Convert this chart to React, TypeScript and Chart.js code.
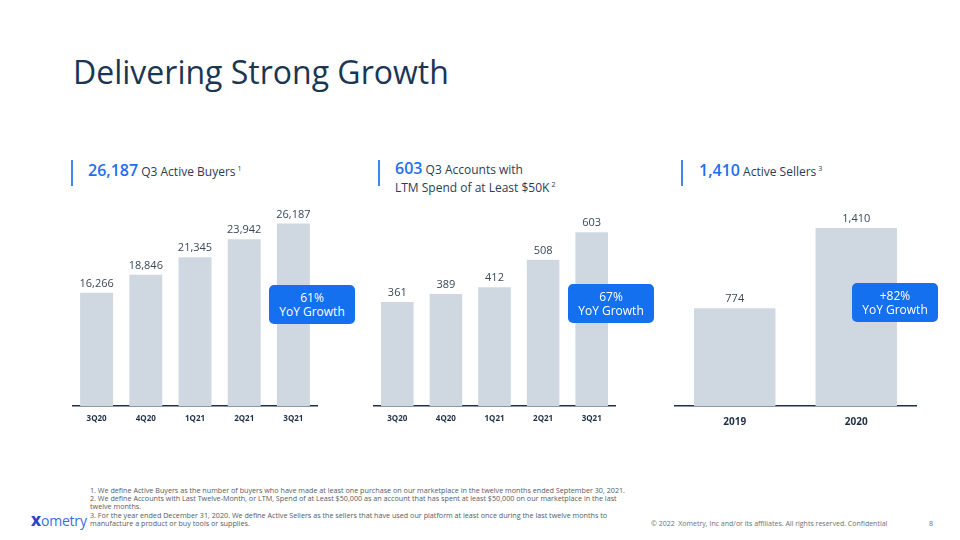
import React, { useEffect, useRef } from "react";
import { Chart, registerables } from "chart.js";

Chart.register(...registerables);

// ---- data ----
const buyersLabels = ["3Q20", "4Q20", "1Q21", "2Q21", "3Q21"];
const buyersValues = [16266, 18846, 21345, 23942, 26187];
const accountsLabels = ["3Q20", "4Q20", "1Q21", "2Q21", "3Q21"];
const accountsValues = [361, 389, 412, 508, 603];
const sellersLabels = ["2019", "2020"];
const sellersValues = [774, 1410];

const FONT = '"Open Sans", "Noto Sans", sans-serif';
const NAVY = "#1b3652";
const BLUE = "#1d6ff2";

type BarProps = {
  labels: string[];
  values: number[];
  max: number;
  barPct: number;
  tickSize: number;
  tickPad: number;
  left: number;
  width: number;
};

const valueLabels = {
  id: "valueLabels",
  afterDatasetsDraw(chart: any) {
    const { ctx } = chart;
    const meta = chart.getDatasetMeta(0);
    ctx.save();
    ctx.font = `11px ${FONT}`;
    ctx.fillStyle = "#3a4858";
    ctx.textAlign = "center";
    ctx.textBaseline = "alphabetic";
    meta.data.forEach((bar: any, i: number) => {
      const v = chart.data.datasets[0].data[i] as number;
      ctx.fillText(v.toLocaleString("en-US"), bar.x, bar.y - 6);
    });
    ctx.restore();
  },
};

function BarChart(p: BarProps) {
  const ref = useRef<HTMLCanvasElement | null>(null);
  useEffect(() => {
    if (!ref.current) return;
    const chart = new Chart(ref.current, {
      type: "bar",
      data: {
        labels: p.labels,
        datasets: [
          {
            data: p.values,
            backgroundColor: "#cfd8e0",
            borderWidth: 0,
            barPercentage: p.barPct,
            categoryPercentage: 1,
          },
        ],
      },
      options: {
        animation: false,
        responsive: false,
        maintainAspectRatio: false,
        layout: { padding: 0 },
        plugins: { legend: { display: false }, tooltip: { enabled: false } },
        scales: {
          x: {
            grid: { display: false },
            border: { display: true, color: "#1c3048", width: 1.5 },
            ticks: {
              font: { family: FONT, size: p.tickSize, weight: "bold" },
              color: "#1e2f45",
              padding: p.tickPad,
              maxRotation: 0,
            },
            afterFit: (s: any) => {
              s.height = 34;
            },
          },
          y: { display: false, min: 0, max: p.max },
        },
      } as any,
      plugins: [valueLabels],
    });
    return () => chart.destroy();
  }, []);
  return (
    <canvas
      ref={ref}
      width={p.width}
      height={250}
      style={{ position: "absolute", left: p.left, top: 190, width: p.width, height: 250 }}
    />
  );
}

function Header(props: { x: number; lineX: number; children: React.ReactNode }) {
  return (
    <>
      <div
        style={{
          position: "absolute",
          left: props.lineX,
          top: 160,
          width: 2,
          height: 26,
          background: "#3f86f0",
        }}
      />
      <div
        style={{
          position: "absolute",
          left: props.x,
          top: 161,
          fontFamily: FONT,
          color: "#2a3d55",
          fontSize: 12,
          lineHeight: "15px",
          whiteSpace: "nowrap",
        }}
      >
        {props.children}
      </div>
    </>
  );
}

function Callout(props: { left: number; top: number; pct: string }) {
  return (
    <div
      style={{
        position: "absolute",
        left: props.left,
        top: props.top,
        width: 86,
        height: 39,
        borderRadius: 5,
        background: "#1470ef",
        color: "#ffffff",
        fontFamily: FONT,
        fontSize: 12,
        lineHeight: "14px",
        display: "flex",
        flexDirection: "column",
        justifyContent: "center",
        alignItems: "center",
      }}
    >
      <div>{props.pct}</div>
      <div>YoY Growth</div>
    </div>
  );
}

const big = { color: BLUE, fontSize: 16, fontWeight: 600 as const };
const sup = { fontSize: 7, verticalAlign: "5px", marginLeft: 2 };

export default function App() {
  return (
    <div
      style={{
        position: "fixed",
        left: 0,
        top: 0,
        width: 960,
        height: 540,
        background: "#ffffff",
        overflow: "hidden",
        fontFamily: FONT,
      }}
    >
      <div
        style={{
          position: "absolute",
          left: 73,
          top: 52,
          fontSize: 32,
          lineHeight: "40px",
          color: NAVY,
          whiteSpace: "nowrap",
        }}
      >
        Delivering Strong Growth
      </div>

      <Header x={88} lineX={71}>
        <span style={big}>26,187</span> Q3 Active Buyers<span style={sup}>1</span>
      </Header>
      <Header x={395} lineX={378}>
        <span style={big}>603</span> Q3 Accounts with
        <br />
        LTM Spend of at Least $50K<span style={sup}>2</span>
      </Header>
      <Header x={699} lineX={681}>
        <span style={big}>1,410</span> Active Sellers<span style={sup}>3</span>
      </Header>

      <BarChart labels={buyersLabels} values={buyersValues} max={31000} barPct={0.67} tickSize={8} tickPad={0} left={72} width={246} />
      <BarChart labels={accountsLabels} values={accountsValues} max={750} barPct={0.67} tickSize={8} tickPad={0} left={373} width={243} />
      <BarChart labels={sellersLabels} values={sellersValues} max={1710} barPct={0.67} tickSize={10} tickPad={2} left={674} width={243} />

      <Callout left={269} top={285} pct="61%" />
      <Callout left={568} top={284} pct="67%" />
      <Callout left={852} top={283} pct="+82%" />

      <div
        style={{
          position: "absolute",
          left: 90,
          top: 486,
          fontSize: 7.2,
          lineHeight: "8.2px",
          color: "#555b63",
          whiteSpace: "nowrap",
        }}
      >
        <div>1. We define Active Buyers as the number of buyers who have made at least one purchase on our marketplace in the twelve months ended September 30, 2021.</div>
        <div>2. We define Accounts with Last Twelve-Month, or LTM, Spend of at Least $50,000 as an account that has spent at least $50,000 on our marketplace in the last</div>
        <div>twelve months.</div>
        <div>3. For the year ended December 31, 2020. We define Active Sellers as the sellers that have used our platform at least once during the last twelve months to</div>
        <div>manufacture a product or buy tools or supplies.</div>
      </div>

      <div
        style={{
          position: "absolute",
          left: 31,
          top: 512,
          fontSize: 14,
          lineHeight: "18px",
          color: "#3a6ee6",
          whiteSpace: "nowrap",
          letterSpacing: "-0.2px",
        }}
      >
        <span style={{ color: "#2b43c4", fontWeight: 800 }}>X</span>ometry
      </div>

      <div
        style={{
          position: "absolute",
          left: 651,
          top: 519,
          fontSize: 7,
          lineHeight: "10px",
          color: "#6a7078",
          whiteSpace: "nowrap",
        }}
      >
        © 2022&nbsp; Xometry, Inc and/or its affiliates. All rights reserved. Confidential
      </div>
      <div
        style={{
          position: "absolute",
          left: 929,
          top: 519,
          fontSize: 7,
          lineHeight: "10px",
          color: "#6a7078",
        }}
      >
        8
      </div>
    </div>
  );
}
